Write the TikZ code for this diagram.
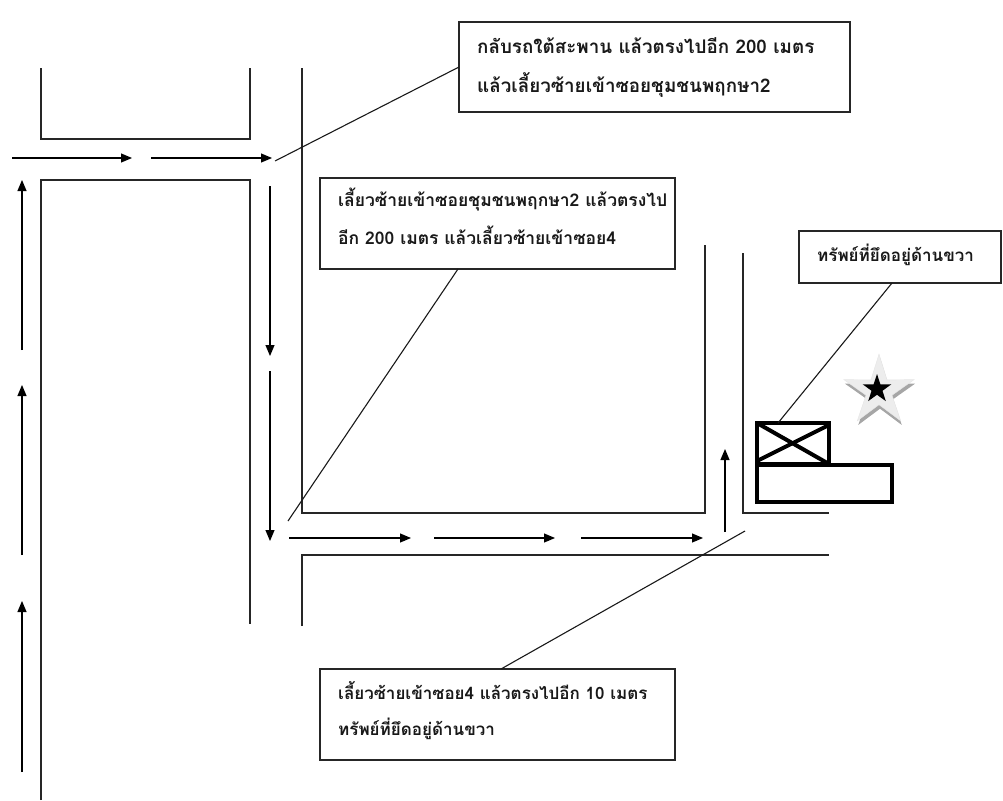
\documentclass[tikz,border=0pt]{standalone}
\usepackage{fontspec}
\newfontfamily\thaifont[Script=Thai]{Loma}
\usetikzlibrary{arrows.meta,shapes.geometric}
\tikzset{
  road/.style={draw=black!85,line width=1.1pt},
  dir/.style={draw=black,line width=1.1pt,-{Triangle[length=11pt,width=9pt]}},
  lead/.style={draw=black!90,line width=1.1pt},
  callout/.style={draw=black!85,line width=1.3pt,fill=white,rectangle,inner sep=0pt,outer sep=0pt,anchor=north west},
  label/.style={anchor=west,align=left,inner sep=0pt,text=black!90},
  house/.style={draw=black,line width=4pt,rectangle,inner sep=0pt,outer sep=0pt,anchor=north west},
}
\newcommand{\thsize}[2]{\thaifont\bfseries\fontsize{#1}{#2}\selectfont}
\begin{document}
\begin{tikzpicture}[x=1pt,y=-1pt]
\useasboundingbox (0,0) rectangle (1003,800);
% roads
\draw[road] (41,68) -- (41,139) -- (250,139) -- (250,68);
\draw[road] (41,800) -- (41,180) -- (250,180) -- (250,624);
\draw[road] (302,68) -- (302,513) -- (705,513) -- (705,245);
\draw[road] (743,253) -- (743,513) -- (829,513);
\draw[road] (302,626) -- (302,555) -- (829,555);
% direction arrows
\coordinate (a1s) at (12,158); \coordinate (a1e) at (132,158);
\coordinate (a2s) at (151,158); \coordinate (a2e) at (272,158);
\coordinate (a3s) at (270,186); \coordinate (a3e) at (270,356);
\coordinate (a4s) at (270,371); \coordinate (a4e) at (270,541);
\coordinate (a5s) at (289,538); \coordinate (a5e) at (411,538);
\coordinate (a6s) at (434,538); \coordinate (a6e) at (555,538);
\coordinate (a7s) at (581,538); \coordinate (a7e) at (703,538);
\coordinate (a8s) at (725,532); \coordinate (a8e) at (725,449);
\coordinate (a9s) at (22,350); \coordinate (a9e) at (22,180);
\coordinate (a10s) at (22,555); \coordinate (a10e) at (22,385);
\coordinate (a11s) at (22,772); \coordinate (a11e) at (22,601);
\foreach \n in {1,...,11} \draw[dir] (a\n s) -- (a\n e);
% callout boxes
\node[callout,minimum width=391pt,minimum height=90pt] (b1) at (459,22) {};
\node[callout,minimum width=355pt,minimum height=91pt] (b2) at (320,178) {};
\node[callout,minimum width=202pt,minimum height=52pt] (b3) at (799,231) {};
\node[callout,minimum width=355pt,minimum height=91pt] (b4) at (320,669) {};
\node[label,font=\thsize{18.8}{39}] (t1) at (477,67) {กลับรถใต้สะพาน แล้วตรงไปอีก 200 เมตร\\แล้วเลี้ยวซ้ายเข้าซอยชุมชนพฤกษา2};
\node[label,font=\thsize{17.5}{38}] (t2) at (338,216) {เลี้ยวซ้ายเข้าซอยชุมชนพฤกษา2 แล้วตรงไป\\อีก 200 เมตร แล้วเลี้ยวซ้ายเข้าซอย4};
\node[label,font=\thsize{17}{37}] (t3) at (817,255) {ทรัพย์ที่ยึดอยู่ด้านขวา};
\node[label,font=\thsize{17}{36}] (t4) at (338,711) {เลี้ยวซ้ายเข้าซอย4 แล้วตรงไปอีก 10 เมตร\\ทรัพย์ที่ยึดอยู่ด้านขวา};
% property
\node[house,minimum width=72pt,minimum height=41pt] (h1) at (757,423) {};
\node[house,minimum width=135pt,minimum height=37pt] (h2) at (757,465) {};
\begin{scope}
\clip (h1.north west) rectangle (h1.south east);
\draw[line width=4pt] (h1.north west) -- (h1.south east);
\draw[line width=4pt] (829,425) -- (757,461);
\end{scope}
% star
\node[star,star points=5,star point ratio=2.7,fill=black!35,draw=none,minimum size=74pt,inner sep=0pt] (s0) at (880,395) {};
\node[star,star points=5,star point ratio=2.7,fill=black!7,draw=black!10,minimum size=74pt,inner sep=0pt] (s1) at (879,391) {};
\node[star,star points=5,star point ratio=2.6,fill=black,draw=none,minimum size=30pt,inner sep=0pt] (s2) at (877,389) {};
% leaders
\coordinate (l1) at (275,161);
\coordinate (l2) at (288,521);
\coordinate (l2b) at (458,269);
\coordinate (l3) at (778,423);
\coordinate (l3b) at (892,283);
\coordinate (l4) at (745,531);
\coordinate (l4b) at (501,669);
\draw[lead] (l1) -- (b1.west);
\draw[lead] (l2) -- (l2b);
\draw[lead] (l3) -- (l3b);
\draw[lead] (l4) -- (l4b);
\end{tikzpicture}
\end{document}
